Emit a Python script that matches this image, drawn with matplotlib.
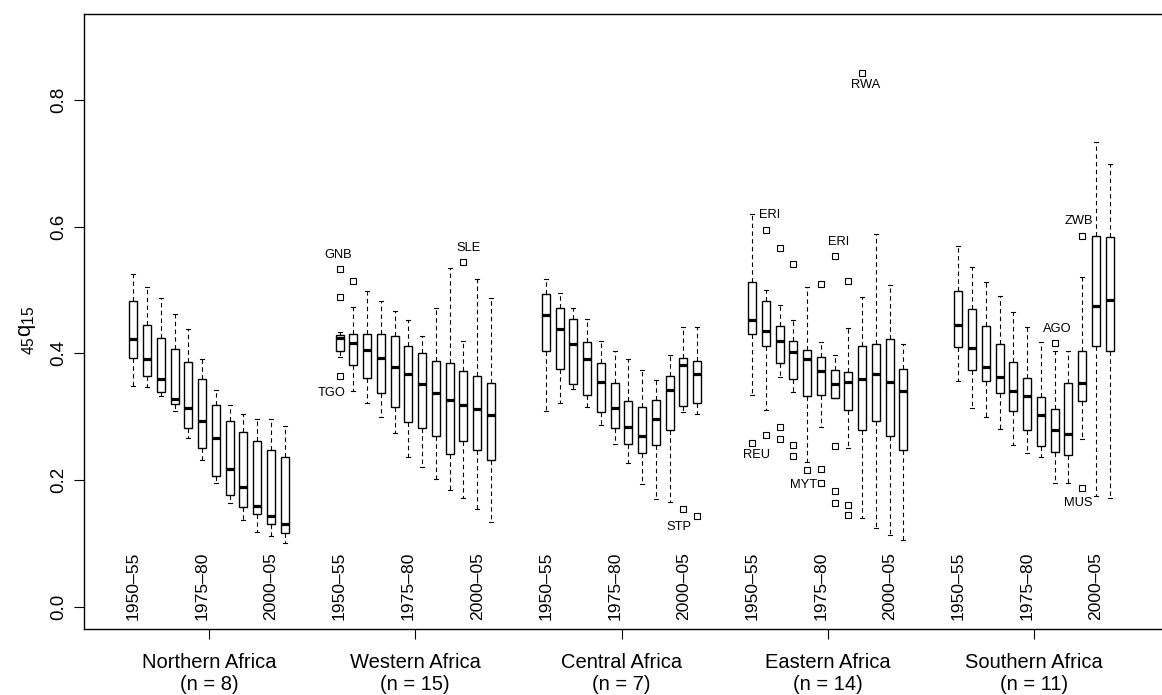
import matplotlib
matplotlib.use("Agg")
import matplotlib.pyplot as plt

plt.rcParams['font.family'] = ['Liberation Sans', 'DejaVu Sans']
plt.rcParams['mathtext.fontset'] = 'custom'
plt.rcParams['mathtext.rm'] = 'Liberation Sans'
plt.rcParams['mathtext.it'] = 'Liberation Sans:italic'

# ---------------------------------------------------------------- data
REGIONS = ["Northern Africa", "Western Africa", "Central Africa",
           "Eastern Africa", "Southern Africa"]
REGION_N = [8, 15, 7, 14, 11]
N_PERIODS = 12                      # 1950-55 ... 2005-10
PERIOD_LABELS = ["1950–55", "1975–80", "2000–05"]
PERIOD_LABEL_IDX = [0, 5, 10]

# five-number summaries per period: lower whisker, Q1, median, Q3, upper whisker
NORTH_LO = [0.348, 0.347, 0.333, 0.309, 0.267, 0.232, 0.195, 0.163, 0.137, 0.118, 0.111, 0.100]
NORTH_Q1 = [0.392, 0.365, 0.339, 0.320, 0.282, 0.250, 0.206, 0.176, 0.158, 0.147, 0.131, 0.117]
NORTH_MED = [0.423, 0.391, 0.360, 0.328, 0.313, 0.293, 0.267, 0.218, 0.189, 0.159, 0.143, 0.130]
NORTH_Q3 = [0.483, 0.445, 0.425, 0.407, 0.387, 0.359, 0.318, 0.293, 0.276, 0.262, 0.247, 0.236]
NORTH_HI = [0.525, 0.504, 0.488, 0.462, 0.438, 0.391, 0.342, 0.318, 0.304, 0.297, 0.296, 0.285]
NORTH_OUT = {}

WEST_LO = [0.395, 0.341, 0.321, 0.299, 0.275, 0.237, 0.221, 0.202, 0.184, 0.171, 0.154, 0.133]
WEST_Q1 = [0.403, 0.382, 0.361, 0.338, 0.316, 0.292, 0.282, 0.270, 0.241, 0.262, 0.247, 0.231]
WEST_MED = [0.425, 0.416, 0.405, 0.392, 0.378, 0.367, 0.352, 0.337, 0.326, 0.318, 0.312, 0.303]
WEST_Q3 = [0.429, 0.430, 0.430, 0.430, 0.428, 0.412, 0.401, 0.388, 0.385, 0.372, 0.365, 0.353]
WEST_HI = [0.433, 0.473, 0.498, 0.483, 0.467, 0.453, 0.427, 0.472, 0.534, 0.419, 0.517, 0.488]
WEST_OUT = {0: [0.533, 0.489, 0.365], 1: [0.515], 9: [0.545]}

CENTRAL_LO = [0.309, 0.321, 0.344, 0.316, 0.287, 0.257, 0.227, 0.194, 0.170, 0.165, 0.307, 0.305]
CENTRAL_Q1 = [0.404, 0.375, 0.351, 0.334, 0.307, 0.282, 0.257, 0.243, 0.255, 0.279, 0.317, 0.321]
CENTRAL_MED = [0.460, 0.438, 0.414, 0.391, 0.354, 0.313, 0.283, 0.270, 0.296, 0.342, 0.382, 0.367]
CENTRAL_Q3 = [0.493, 0.472, 0.455, 0.418, 0.384, 0.353, 0.324, 0.316, 0.326, 0.365, 0.392, 0.388]
CENTRAL_HI = [0.517, 0.495, 0.471, 0.454, 0.420, 0.404, 0.391, 0.373, 0.358, 0.398, 0.442, 0.441]
CENTRAL_OUT = {10: [0.155], 11: [0.143]}

EAST_LO = [0.334, 0.310, 0.362, 0.339, 0.229, 0.283, 0.330, 0.250, 0.140, 0.125, 0.113, 0.105]
EAST_Q1 = [0.430, 0.411, 0.385, 0.359, 0.332, 0.334, 0.330, 0.311, 0.279, 0.293, 0.270, 0.247]
EAST_MED = [0.452, 0.436, 0.420, 0.402, 0.391, 0.372, 0.352, 0.354, 0.359, 0.368, 0.355, 0.340]
EAST_Q3 = [0.512, 0.482, 0.443, 0.420, 0.405, 0.395, 0.373, 0.370, 0.411, 0.415, 0.422, 0.376]
EAST_HI = [0.620, 0.500, 0.476, 0.453, 0.505, 0.418, 0.398, 0.440, 0.489, 0.589, 0.508, 0.415]
EAST_OUT = {0: [0.258], 1: [0.594, 0.271], 2: [0.567, 0.283, 0.265],
            3: [0.541, 0.255, 0.238], 4: [0.216], 5: [0.510, 0.217, 0.195],
            6: [0.554, 0.254, 0.182, 0.163], 7: [0.514, 0.160, 0.145], 8: [0.842]}

SOUTH_LO = [0.356, 0.314, 0.300, 0.280, 0.255, 0.243, 0.236, 0.196, 0.196, 0.264, 0.174, 0.171]
SOUTH_Q1 = [0.410, 0.373, 0.356, 0.337, 0.309, 0.279, 0.253, 0.244, 0.240, 0.325, 0.412, 0.404]
SOUTH_MED = [0.444, 0.409, 0.378, 0.362, 0.341, 0.333, 0.303, 0.279, 0.272, 0.353, 0.474, 0.484]
SOUTH_Q3 = [0.499, 0.470, 0.443, 0.415, 0.387, 0.361, 0.331, 0.312, 0.353, 0.404, 0.585, 0.583]
SOUTH_HI = [0.570, 0.536, 0.513, 0.490, 0.465, 0.442, 0.418, 0.403, 0.404, 0.521, 0.734, 0.699]
SOUTH_OUT = {7: [0.417], 9: [0.585, 0.188]}

# labelled outlying countries: code, region index, period index, value
CODE_NAMES = ["GNB", "TGO", "SLE", "STP", "ERI", "REU", "ERI", "MYT", "RWA", "AGO", "ZWB", "MUS"]
CODE_REGION = [1, 1, 1, 2, 3, 3, 3, 3, 3, 4, 4, 4]
CODE_PERIOD = [0, 0, 9, 10, 1, 0, 6, 5, 8, 7, 9, 9]
CODE_VALUE = [0.533, 0.365, 0.545, 0.155, 0.594, 0.258, 0.554, 0.195, 0.842, 0.417, 0.585, 0.188]

# ---------------------------------------------------------------- layout
GROUP_STEP = 15
# text offsets (pixels) of each country code relative to its point
CODE_OFFSETS = [(-1, 14), (-8, -17), (5, 14), (-4, -18), (4, 15), (4, -12),
                (4, 14), (-17, -2), (3, -12), (3, 14), (-3, 15), (-4, -15)]

regions = [
    (NORTH_LO, NORTH_Q1, NORTH_MED, NORTH_Q3, NORTH_HI, NORTH_OUT),
    (WEST_LO, WEST_Q1, WEST_MED, WEST_Q3, WEST_HI, WEST_OUT),
    (CENTRAL_LO, CENTRAL_Q1, CENTRAL_MED, CENTRAL_Q3, CENTRAL_HI, CENTRAL_OUT),
    (EAST_LO, EAST_Q1, EAST_MED, EAST_Q3, EAST_HI, EAST_OUT),
    (SOUTH_LO, SOUTH_Q1, SOUTH_MED, SOUTH_Q3, SOUTH_HI, SOUTH_OUT),
]


def box_pos(g, i):
    return GROUP_STEP * g + i + 1


stats, positions = [], []
for g, (lo, q1, med, q3, hi, out) in enumerate(regions):
    for i in range(N_PERIODS):
        stats.append(dict(whislo=lo[i], q1=q1[i], med=med[i], q3=q3[i],
                          whishi=hi[i], fliers=out.get(i, [])))
        positions.append(box_pos(g, i))

W, H = 1162, 695
fig = plt.figure(figsize=(W / 100, H / 100), dpi=100)
ax = fig.add_axes([84 / W, 66 / H, 1079 / W, 615 / H])

ax.bxp(stats, positions=positions, widths=0.58, capwidths=0.29,
       patch_artist=True, manage_ticks=False,
       boxprops=dict(facecolor='white', edgecolor='black', linewidth=1.0),
       medianprops=dict(color='black', linewidth=2.3, solid_capstyle='butt'),
       whiskerprops=dict(color='black', linewidth=0.8, linestyle=(0, (4, 3))),
       capprops=dict(color='black', linewidth=0.8),
       flierprops=dict(marker='s', markersize=4, markerfacecolor='none',
                       markeredgecolor='black', markeredgewidth=0.8,
                       linestyle='none'))

# period labels inside the plot
for g in range(len(REGIONS)):
    for lab, idx in zip(PERIOD_LABELS, PERIOD_LABEL_IDX):
        ax.text(box_pos(g, idx), -0.021, lab, rotation=90,
                ha='center', va='bottom', fontsize=12.6)

# country codes beside outliers
for name, g, i, v, (dx, dy) in zip(CODE_NAMES, CODE_REGION, CODE_PERIOD,
                                   CODE_VALUE, CODE_OFFSETS):
    ax.annotate(name, (box_pos(g, i), v), xytext=(dx * 0.72, dy * 0.72),
                textcoords='offset points', ha='center', va='center',
                fontsize=9.3)

ax.set_xlim(-2.59, 75.88)
ax.set_ylim(-0.0352, 0.9358)

ax.set_yticks([0.0, 0.2, 0.4, 0.6, 0.8])
ax.set_yticklabels(["0.0", "0.2", "0.4", "0.6", "0.8"], rotation=90,
                   va='center', fontsize=13.5)
ax.set_xticks([GROUP_STEP * g + (N_PERIODS + 1) / 2 for g in range(len(REGIONS))])
ax.set_xticklabels([f"{r}\n(n = {n})" for r, n in zip(REGIONS, REGION_N)],
                   fontsize=14.5, linespacing=1.25)
ax.tick_params(axis='y', length=7, width=0.8, pad=5)
ax.tick_params(axis='x', length=7, width=0.8, pad=10)

for side in ('left', 'top', 'bottom'):
    ax.spines[side].set_linewidth(1.0)
ax.spines['right'].set_visible(False)

fig.text(27 / W, 1 - 330 / H, r'$_{\mathrm{45}}\mathrm{q}_{\mathrm{15}}$',
         rotation=90, ha='center', va='center', fontsize=16)

fig.savefig("out.png", dpi=100)
